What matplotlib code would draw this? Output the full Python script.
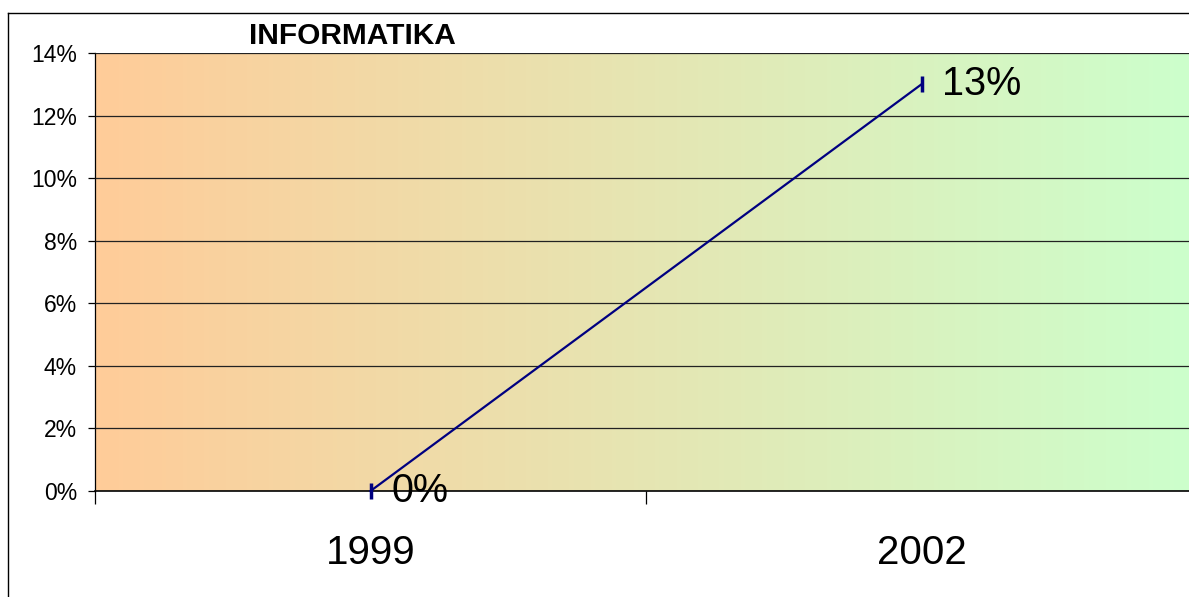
import numpy as np
import matplotlib
matplotlib.use("Agg")
import matplotlib.pyplot as plt
from matplotlib.colors import LinearSegmentedColormap
from matplotlib.ticker import FuncFormatter, FixedLocator
from matplotlib.lines import Line2D

years = ["1999", "2002"]
values = [0.00, 0.13]
value_labels = ["0%", "13%"]

plt.rcParams['font.family'] = ['Liberation Sans', 'DejaVu Sans']

fig = plt.figure(figsize=(11.89, 5.97), dpi=100)
ax = fig.add_axes([95 / 1189, 1 - 491 / 597, (1197 - 95) / 1189, (491 - 53) / 597])

# background gradient, peach -> light green
cmap = LinearSegmentedColormap.from_list("bg", ["#FFCC99", "#CCFFCC"])
grad = np.linspace(0, 1, 256).reshape(1, -1)
ax.imshow(grad, cmap=cmap, aspect="auto", extent=[-0.5, 1.5, 0, 0.14],
          zorder=0, interpolation="bilinear")

x = np.arange(len(years))
ax.plot(x, values, color="#000080", lw=1.6, marker="|", markersize=12,
        markeredgewidth=2.5, zorder=3, clip_on=False)
for xi, v, lab in zip(x, values, value_labels):
    ax.annotate(lab, (xi, v), xytext=(15, 0), textcoords="offset points",
                fontsize=28.5, va="center", ha="left", zorder=4)

ax.set_xlim(-0.5, 1.5)
ax.set_ylim(0, 0.14)
ax.set_yticks(np.arange(0, 0.141, 0.02))
ax.yaxis.set_major_formatter(FuncFormatter(lambda v, p: f"{v * 100:.0f}%"))
ax.yaxis.grid(True, color="#222222", lw=0.9, zorder=1)
ax.set_axisbelow(False)
for gl in ax.get_ygridlines():
    gl.set_zorder(1)

ax.set_xticks(x)
ax.set_xticklabels(years, fontsize=29)
ax.xaxis.set_minor_locator(FixedLocator([-0.5, 0.5, 1.5]))
ax.tick_params(axis="x", which="major", length=0, pad=31)
ax.tick_params(axis="x", which="minor", length=9, width=0.9, direction="out")
ax.tick_params(axis="y", length=5, width=0.9, direction="out", pad=8, labelsize=16.5)

for s in ["top", "right"]:
    ax.spines[s].set_visible(False)
ax.spines["left"].set_linewidth(0.9)
ax.spines["bottom"].set_linewidth(1.2)

fig.text(352 / 1189, 1 - 36 / 597, "INFORMATIKA", fontsize=21.5, fontweight="bold",
         ha="center", va="center")

# outer chart frame (cut off on right/bottom)
fig.add_artist(Line2D([8 / 1189, 1.0], [1 - 13 / 597, 1 - 13 / 597],
                      transform=fig.transFigure, color="black", lw=1))
fig.add_artist(Line2D([8 / 1189, 8 / 1189], [0, 1 - 13 / 597],
                      transform=fig.transFigure, color="black", lw=1))

fig.savefig("out.png", dpi=100)
